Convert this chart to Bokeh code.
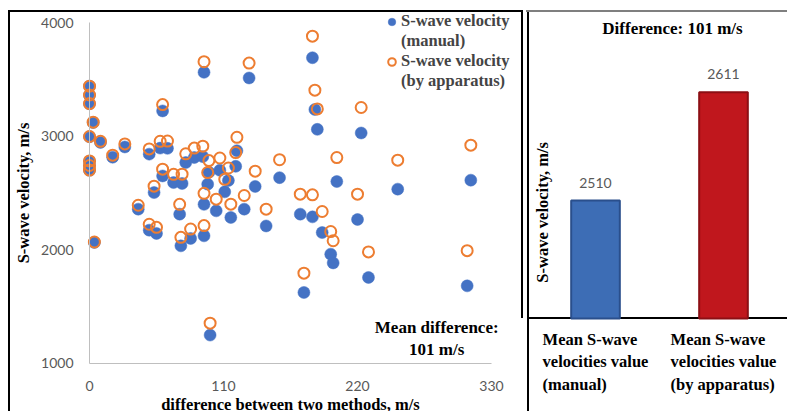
import math
from bokeh.plotting import figure
from bokeh.models import (ColumnDataSource, Range1d, FixedTicker, Legend, LegendItem,
                          Label, LabelSet, FactorRange)
from bokeh.layouts import row
from bokeh.core.properties import value
from bokeh.embed import file_html
from bokeh.resources import INLINE

# ---------------- data ----------------
diff = [0, 0, 0, 0, 0, 0, 0, 3, 4, 9, 19, 29,
        40, 49, 53, 49, 55, 58, 64, 60, 60, 69, 76, 74, 75, 79, 83, 86,
        94, 94, 93, 94, 98, 97, 99, 104, 107, 111, 114, 116, 120, 121, 127, 131, 136, 145, 156,
        173, 176, 183, 183, 185, 187, 191, 198, 200, 203, 220, 223, 229, 253, 310, 313]

v_manual = [3440, 3360, 3285, 2995, 2780, 2740, 2700, 3120, 2065, 2945, 2815, 2905,
            2358, 2842, 2504, 2173, 2144, 2895, 2893, 3222, 2650, 2592, 2584, 2314, 2035, 2768, 2100, 2812,
            3562, 2123, 2820, 2400, 2683, 2578, 1250, 2343, 2700, 2510, 2610, 2285, 2735, 2872, 2358, 3512, 2558, 2210, 2635,
            2314, 1625, 3690, 2290, 3235, 3060, 2152, 1962, 1885, 2601, 2267, 3028, 1757, 2534, 1683, 2613]

v_apparatus = [3440, 3362, 3287, 2997, 2782, 2742, 2702, 3123, 2069, 2955, 2833, 2932,
               2392, 2888, 2560, 2225, 2198, 2955, 2957, 3278, 2710, 2664, 2666, 2400, 2110, 2845, 2183, 2895,
               3655, 2213, 2912, 2497, 2785, 2680, 1355, 2446, 2808, 2620, 2720, 2402, 2856, 2990, 2478, 3643, 2692, 2358, 2793,
               2490, 1795, 3880, 2484, 3405, 3240, 2337, 2161, 2080, 2812, 2490, 3252, 1982, 2789, 1993, 2921]

x_ticks = [0, 110, 220, 330]
y_ticks = [1000, 2000, 3000, 4000]

bar_categories = ["Mean S-wave\nvelocities value\n(manual)",
                  "Mean S-wave\nvelocities value\n(by apparatus)"]
bar_means = [2510, 2611]
bar_base = 2400
mean_difference = 101

# ---------------- styles ----------------
SERIF = "Liberation Serif"
SANS = "Lato"
BLUE = "#4472C4"
ORANGE = "#ED7D31"
TICK_GRAY = "#595959"


def bg_lines(specs):
    layers = []
    for color, x, y, w, h in specs:
        layers.append(f"linear-gradient({color},{color}) {x}px {y}px / {w}px {h}px no-repeat")
    return {"background": ", ".join(layers)}


# ---------------- left: scatter ----------------
# The frame covers nearly the whole panel so that legend, notes and tick labels
# are never clipped; the visible axes are fixed at x=0 / y=1000 and bounded.
p1 = figure(width=526, height=411, x_range=Range1d(-68.96, 354.6), y_range=Range1d(577.7, 4096.8),
            output_backend="svg", toolbar_location=None,
            min_border_left=5, min_border_right=5, min_border_top=11, min_border_bottom=0,
            styles=bg_lines([("#000", 8, 10, 515, 2),
                             ("#000", 8, 10, 2, 401),
                             ("#000", 521, 10, 2, 308)]))
p1.outline_line_color = None
p1.grid.visible = False
p1.background_fill_color = None
p1.border_fill_color = None

src = ColumnDataSource(dict(diff=diff, manual=v_manual, app=v_apparatus))
r_man = p1.scatter("diff", "manual", source=src, size=12, fill_color=BLUE,
                   line_color=BLUE, line_width=0.5)
r_app = p1.scatter("diff", "app", source=src, size=11, fill_color=None,
                   line_color=ORANGE, line_width=2)

p1.xaxis.ticker = FixedTicker(ticks=x_ticks)
p1.yaxis.ticker = FixedTicker(ticks=y_ticks)
p1.xaxis.bounds = (x_ticks[0], x_ticks[-1])
p1.yaxis.bounds = (y_ticks[0], y_ticks[-1])
p1.xaxis.fixed_location = y_ticks[0]
p1.yaxis.fixed_location = x_ticks[0]
p1.xaxis.axis_label = "difference between two methods, m/s"
p1.yaxis.axis_label = "S-wave velocity, m/s"
for ax in (p1.xaxis[0], p1.yaxis[0]):
    ax.major_tick_line_color = None
    ax.minor_tick_line_color = None
    ax.axis_line_color = "#BFBFBF"
    ax.axis_line_width = 1
    ax.major_label_text_font = SANS
    ax.major_label_text_font_size = "14px"
    ax.major_label_text_color = TICK_GRAY
    ax.axis_label_text_font = SERIF
    ax.axis_label_text_font_style = "bold"
    ax.axis_label_text_font_size = "16.5px"
    ax.axis_label_text_color = "black"
p1.xaxis.major_label_standoff = 12
p1.xaxis.axis_label_standoff = 0
p1.yaxis.major_label_standoff = 10
p1.yaxis.axis_label_standoff = 5

legend = Legend(items=[LegendItem(label="S-wave velocity", renderers=[r_man]),
                       LegendItem(label="(manual)", renderers=[]),
                       LegendItem(label="S-wave velocity", renderers=[r_app]),
                       LegendItem(label="(by apparatus)", renderers=[])],
                location=(377, 320), padding=0, margin=0, spacing=0,
                glyph_width=19, glyph_height=19, label_standoff=0, label_height=19,
                border_line_color=None, background_fill_alpha=0)
legend.label_text_font = SERIF
legend.label_text_font_style = "bold"
legend.label_text_font_size = "16.5px"
p1.add_layout(legend)

p1.add_layout(Label(x=285, y=1220, text=f"Mean difference:\n{mean_difference} m/s",
                    text_align="center", text_baseline="middle", text_font=SERIF,
                    text_font_style="bold", text_font_size="17px", text_line_height=1.2,
                    text_color="black"))

# ---------------- right: bars ----------------
p2 = figure(width=261, height=411, x_range=FactorRange(*bar_categories),
            y_range=Range1d(2313.3, 2686.3), output_backend="svg", toolbar_location=None,
            min_border_left=5, min_border_right=0, min_border_top=11, min_border_bottom=0,
            styles=bg_lines([("#7F7F7F", 0, 10, 261, 2),
                             ("#000", 1, 10, 2, 401),
                             ("#000", 1, 317, 260, 2)]))
p2.outline_line_color = None
p2.grid.visible = False
p2.xaxis.visible = False
p2.yaxis.visible = False
p2.background_fill_color = None
p2.border_fill_color = None
p2.x_range.range_padding = 0

bsrc = ColumnDataSource(dict(cat=bar_categories, mean=bar_means,
                             label=[str(m) for m in bar_means],
                             fill=["#3D6DB5", "#C0171D"],
                             edge=["#2A4F8C", "#8C0F14"]))
p2.vbar(x="cat", top="mean", bottom=bar_base, width=0.38, source=bsrc,
        fill_color="fill", line_color="edge", line_width=2)

p2.add_layout(LabelSet(x="cat", y="mean", text="label", source=bsrc, y_offset=13,
                       text_align="center", text_baseline="bottom", text_font=value(SANS),
                       text_font_size="14px", text_color=TICK_GRAY))

# category labels under the bars
p2.add_layout(LabelSet(x="cat", y=bar_base, text="cat", source=bsrc, y_offset=-11,
                       text_align="center", text_baseline="top", text_font=value(SERIF),
                       text_font_style="bold", text_font_size="16.5px", text_color="black",
                       text_line_height=1.2))

p2.add_layout(Label(x=146, x_units="canvas", y=2670,
                    text=f"Difference: {mean_difference} m/s", text_align="center",
                    text_baseline="middle", text_font=SERIF, text_font_style="bold",
                    text_font_size="17px", text_color="black"))
p2.add_layout(Label(x=16, x_units="canvas", y=2499, angle=math.pi / 2,
                    text="S-wave velocity, m/s", text_align="center",
                    text_baseline="middle", text_font=SERIF, text_font_style="bold",
                    text_font_size="16.5px", text_color="black"))

layout = row(p1, p2)
open("out.html", "w").write(file_html(layout, INLINE))
